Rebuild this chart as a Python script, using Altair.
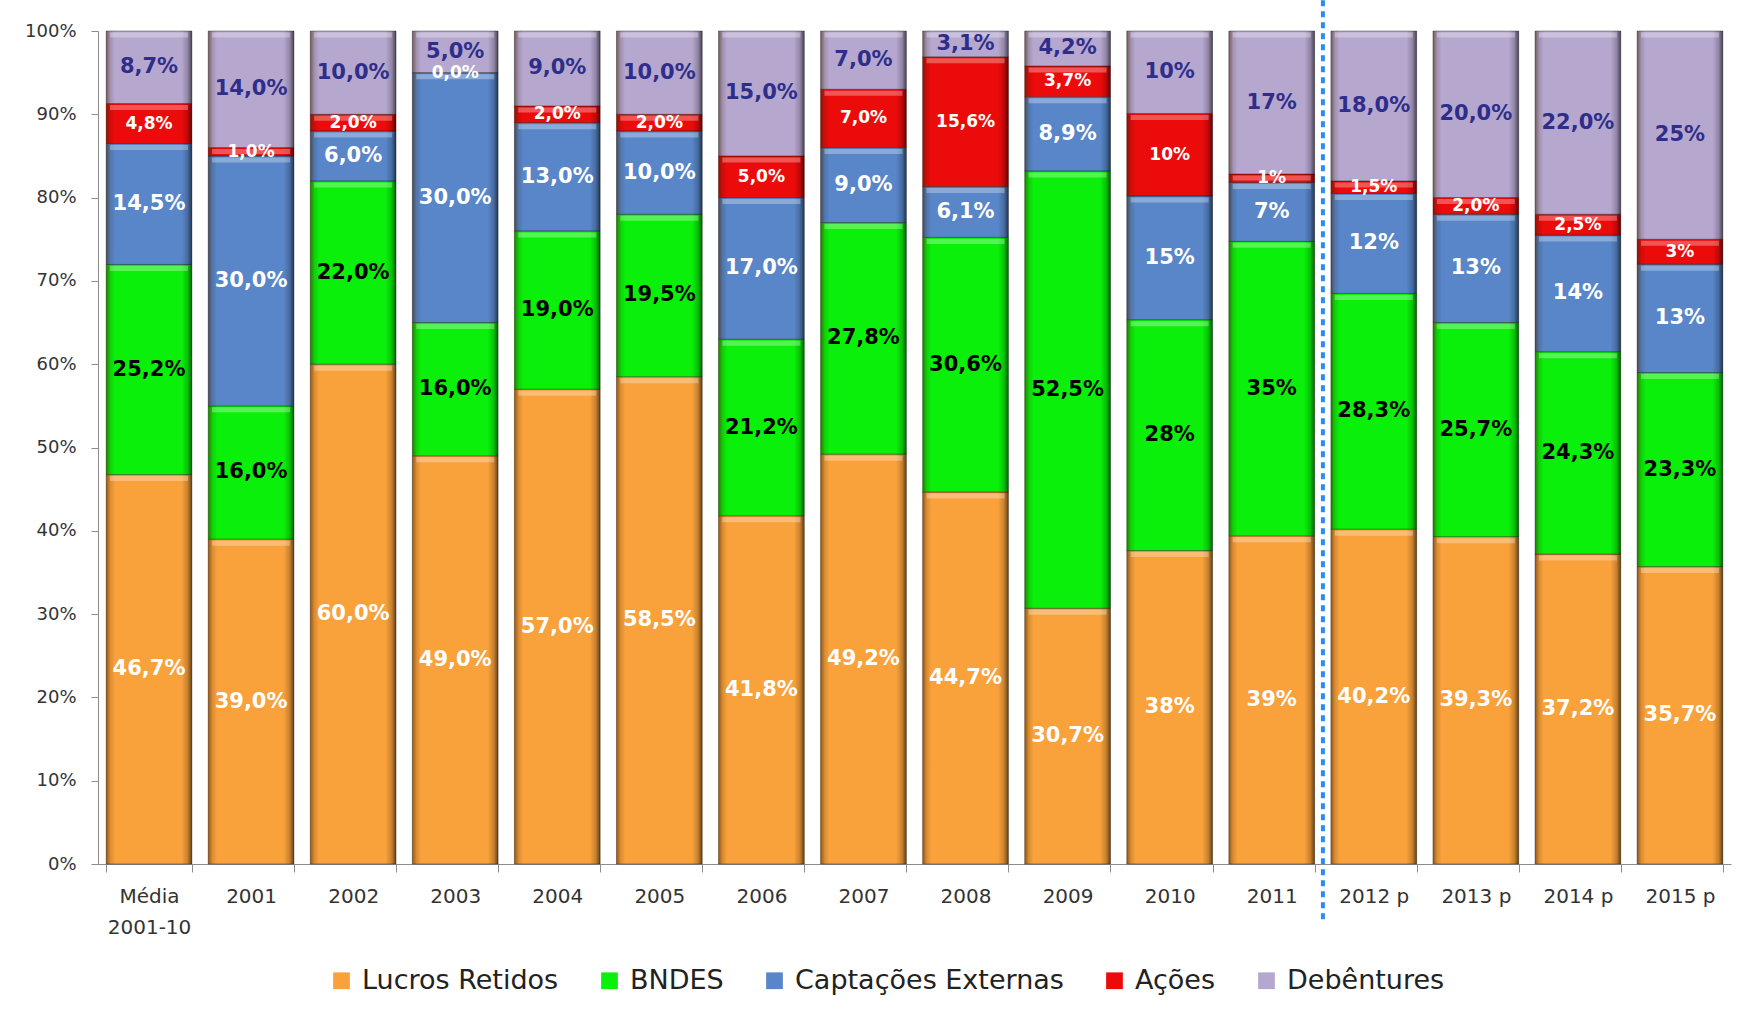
import altair as alt
import pandas as pd

categories = ["Média 2001-10", "2001", "2002", "2003", "2004", "2005", "2006", "2007",
              "2008", "2009", "2010", "2011", "2012 p", "2013 p", "2014 p", "2015 p"]
series = ["Lucros Retidos", "BNDES", "Captações Externas", "Ações", "Debêntures"]

lucros = [46.7, 39.0, 60.0, 49.0, 57.0, 58.5, 41.8, 49.2, 44.7, 30.7, 38, 39, 40.2, 39.3, 37.2, 35.7]
bndes = [25.2, 16.0, 22.0, 16.0, 19.0, 19.5, 21.2, 27.8, 30.6, 52.5, 28, 35, 28.3, 25.7, 24.3, 23.3]
captacoes = [14.5, 30.0, 6.0, 30.0, 13.0, 10.0, 17.0, 9.0, 6.1, 8.9, 15, 7, 12, 13, 14, 13]
acoes = [4.8, 1.0, 2.0, 0.0, 2.0, 2.0, 5.0, 7.0, 15.6, 3.7, 10, 1, 1.5, 2.0, 2.5, 3]
debentures = [8.7, 14.0, 10.0, 5.0, 9.0, 10.0, 15.0, 7.0, 3.1, 4.2, 10, 17, 18.0, 20.0, 22.0, 25]

lucros_lbl = ["46,7%", "39,0%", "60,0%", "49,0%", "57,0%", "58,5%", "41,8%", "49,2%", "44,7%", "30,7%", "38%", "39%", "40,2%", "39,3%", "37,2%", "35,7%"]
bndes_lbl = ["25,2%", "16,0%", "22,0%", "16,0%", "19,0%", "19,5%", "21,2%", "27,8%", "30,6%", "52,5%", "28%", "35%", "28,3%", "25,7%", "24,3%", "23,3%"]
captacoes_lbl = ["14,5%", "30,0%", "6,0%", "30,0%", "13,0%", "10,0%", "17,0%", "9,0%", "6,1%", "8,9%", "15%", "7%", "12%", "13%", "14%", "13%"]
acoes_lbl = ["4,8%", "1,0%", "2,0%", "0,0%", "2,0%", "2,0%", "5,0%", "7,0%", "15,6%", "3,7%", "10%", "1%", "1,5%", "2,0%", "2,5%", "3%"]
debentures_lbl = ["8,7%", "14,0%", "10,0%", "5,0%", "9,0%", "10,0%", "15,0%", "7,0%", "3,1%", "4,2%", "10%", "17%", "18,0%", "20,0%", "22,0%", "25%"]

divider_category = "2012 p"

values_by_series = [lucros, bndes, captacoes, acoes, debentures]
labels_by_series = [lucros_lbl, bndes_lbl, captacoes_lbl, acoes_lbl, debentures_lbl]

rows = []
for si, (s, vals, lbls) in enumerate(zip(series, values_by_series, labels_by_series)):
    for c, v, l in zip(categories, vals, lbls):
        rows.append({"cat": c, "series": s, "val": v, "lbl": l, "ord": si})
df = pd.DataFrame(rows)

bar_colors = ["#F9A13B", "#0AF00A", "#5886C8", "#EC0B0B", "#B6A7CF"]
text_colors = ["#FFFFFF", "#000000", "#FFFFFF", "#FFFFFF", "#2E2E8A"]

FONT = "DejaVu Sans"

x_enc = alt.X(
    "cat:N", sort=categories,
    scale=alt.Scale(paddingInner=0.16, paddingOuter=0.08),
    axis=alt.Axis(
        title=None, labelAngle=0, tickBand="extent", tickSize=8, labelPadding=14,
        labelFontSize=20, labelFont=FONT, labelColor="#333333", labelLineHeight=31,
        domainColor="#8C8C8C", tickColor="#8C8C8C",
        labelExpr="datum.label == 'Média 2001-10' ? ['Média', '2001-10'] : datum.label",
    ),
)
y_scale = alt.Scale(domain=[0, 1], nice=False)
y_axis = alt.Axis(
    title=None, values=[i / 10 for i in range(11)], format=".0%", grid=False,
    labelFontSize=18, labelFont=FONT, labelColor="#333333", tickSize=7, labelPadding=15,
    domainColor="#8C8C8C", tickColor="#8C8C8C",
)

base = alt.Chart(df).transform_stack(
    stack="val", groupby=["cat"], as_=["y0", "y1"],
    sort=[alt.SortField("ord", order="ascending")], offset="normalize",
).transform_calculate(mid="(datum.y0 + datum.y1) / 2")

bars = base.mark_bar(stroke="#000000", strokeOpacity=0.35, strokeWidth=1).encode(
    x=x_enc,
    y=alt.Y("y0:Q", scale=y_scale, axis=y_axis),
    y2="y1:Q",
    color=alt.Color(
        "series:N",
        scale=alt.Scale(domain=series, range=bar_colors),
        legend=alt.Legend(
            title=None, orient="none", direction="horizontal", legendX=230, legendY=936,
            labelFontSize=27, labelFont=FONT, labelColor="#222222", symbolType="square",
            symbolSize=280, symbolStrokeWidth=0, columnPadding=37, labelOffset=7, padding=0,
            labelLimit=500,
        ),
    ),
)

shade = {
    "gradient": "linear", "x1": 0, "x2": 1, "y1": 0, "y2": 0,
    "stops": [
        {"offset": 0, "color": "rgba(60,30,0,0.55)"},
        {"offset": 0.05, "color": "rgba(60,30,0,0.15)"},
        {"offset": 0.1, "color": "rgba(0,0,0,0)"},
        {"offset": 0.88, "color": "rgba(0,0,0,0)"},
        {"offset": 0.95, "color": "rgba(0,0,0,0.2)"},
        {"offset": 1, "color": "rgba(0,0,0,0.6)"},
    ],
}
overlay = base.mark_bar(color=shade).encode(
    x=alt.X("cat:N", sort=categories),
    y=alt.Y("y0:Q"),
    y2="y1:Q",
)

highlight = base.transform_filter("datum.val > 0").mark_tick(
    color="#FFFFFF", opacity=0.3, thickness=5, size=78, yOffset=4
).encode(
    x=alt.X("cat:N", sort=categories),
    y=alt.Y("y1:Q"),
)

texts = base.mark_text(font=FONT, fontWeight="bold", baseline="middle", align="center").encode(
    x=alt.X("cat:N", sort=categories),
    y=alt.Y("mid:Q"),
    text="lbl:N",
    color=alt.Color("series:N", scale=alt.Scale(domain=series, range=text_colors), legend=None),
    size=alt.condition(alt.datum.series == "Ações", alt.value(17), alt.value(21)),
)

rule_df = pd.DataFrame({"cat": [divider_category], "top": [1.037], "bot": [-0.07]})
rule = alt.Chart(rule_df).mark_rule(
    color="#2D8CF0", strokeWidth=4, strokeDash=[6, 5], xOffset=-8
).encode(
    x=alt.X("cat:N", sort=categories, bandPosition=0),
    y=alt.Y("top:Q"),
    y2="bot:Q",
)

chart = alt.layer(bars, overlay, highlight, texts, rule).resolve_scale(color="independent").properties(
    width=1633, height=833,
    autosize=alt.AutoSizeParams(type="none"),
    padding={"left": 98, "top": 31, "right": 11, "bottom": 153},
    background="white",
).configure_view(strokeWidth=0)

chart.save("out.html", embed_options={"renderer": "svg", "actions": False})
